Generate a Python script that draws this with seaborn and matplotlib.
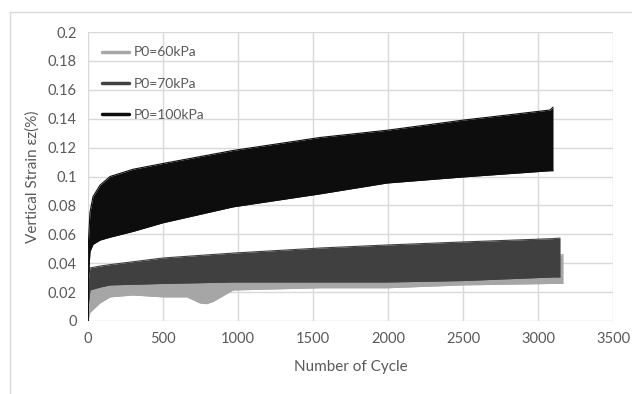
import numpy as np
import pandas as pd
import matplotlib
matplotlib.use("Agg")
import matplotlib.pyplot as plt
from matplotlib.lines import Line2D
import seaborn as sns

# envelope of the cyclic strain band (lower / upper)
cyc_60 = [0, 5, 13, 80, 147, 300, 500, 660, 747, 790, 833, 967, 1547, 1993, 2500, 3100, 3167]
low_60 = [0.0, 0.003, 0.006, 0.0125, 0.0167, 0.018, 0.0167, 0.0167, 0.0125, 0.012, 0.0135, 0.0215, 0.023, 0.023, 0.025, 0.026, 0.026]
up_60 = [0.0, 0.018, 0.026, 0.030, 0.032, 0.034, 0.036, 0.037, 0.037, 0.037, 0.038, 0.039, 0.041, 0.042, 0.043, 0.045, 0.046]

cyc_70 = [0, 3, 13, 80, 147, 500, 967, 1547, 1993, 2500, 3100, 3147]
low_70 = [0.0, 0.012, 0.0215, 0.0235, 0.025, 0.026, 0.027, 0.027, 0.027, 0.028, 0.0305, 0.0305]
up_70 = [0.0, 0.030, 0.0367, 0.038, 0.039, 0.0436, 0.047, 0.0505, 0.0526, 0.0547, 0.057, 0.0574]

cyc_100 = [0, 3, 13, 33, 80, 147, 300, 500, 967, 1547, 1993, 2500, 3080, 3100]
low_100 = [0.0, 0.030, 0.048, 0.053, 0.056, 0.058, 0.062, 0.068, 0.079, 0.088, 0.0955, 0.0997, 0.104, 0.104]
up_100 = [0.0, 0.055, 0.075, 0.086, 0.094, 0.100, 0.105, 0.109, 0.118, 0.127, 0.132, 0.139, 0.146, 0.148]

labels = ["P0=60kPa", "P0=70kPa", "P0=100kPa"]
colors = ["#a6a6a6", "#404040", "#0d0d0d"]

sns.set_style("white")
plt.rcParams["font.family"] = ["Lato", "DejaVu Sans"]

fig = plt.figure(figsize=(6.32, 3.94), dpi=100)
ax = fig.add_axes([88 / 632, 1 - 321 / 394, 525 / 632, 289 / 394])

# outer chart border (only top/left visible in the crop)
fig.add_artist(Line2D([10 / 632, 1], [1 - 12 / 394] * 2, color="#d9d9d9", lw=1))
fig.add_artist(Line2D([10 / 632] * 2, [0, 1 - 12 / 394], color="#d9d9d9", lw=1))

series = [(cyc_60, low_60, up_60), (cyc_70, low_70, up_70), (cyc_100, low_100, up_100)]
for i, ((c, lo, hi), lab, col) in enumerate(zip(series, labels, colors)):
    df = pd.DataFrame({"cycle": c, "low": lo, "high": hi})
    z = 3 + i
    sns.lineplot(x="cycle", y="low", data=df, color=col, lw=0.8, ax=ax, zorder=z)
    sns.lineplot(x="cycle", y="high", data=df, color=col, lw=0.8, ax=ax, zorder=z)
    ax.fill_between(df["cycle"], df["low"], df["high"], color=col, lw=0, zorder=z)

ax.set_xlim(0, 3500)
ax.set_ylim(0, 0.2)
ax.set_xticks(np.arange(0, 3501, 500))
ax.set_yticks(np.arange(0, 0.201, 0.02))
ax.set_yticklabels(["0", "0.02", "0.04", "0.06", "0.08", "0.1", "0.12", "0.14", "0.16", "0.18", "0.2"])
ax.grid(True, color="#d9d9d9", lw=1)
ax.set_axisbelow(True)
for s in ax.spines.values():
    s.set_visible(False)
ax.tick_params(length=0, labelsize=10.5, labelcolor="#595959", pad=8)

ax.set_xlabel("Number of Cycle", fontsize=11, color="#595959", labelpad=10)
ax.set_ylabel("Vertical Strain \u03b5z(%)", fontsize=11, color="#595959", labelpad=6)

handles = [Line2D([], [], color=col, lw=2.5) for col in colors]
leg = ax.legend(handles, labels, loc="upper left", bbox_to_anchor=(0.027, 0.95), frameon=False,
                borderpad=0, borderaxespad=0, fontsize=10, labelspacing=1.4,
                handlelength=1.9, handletextpad=0.35)
leg.set_zorder(10)
for t in leg.get_texts():
    t.set_color("#595959")

fig.savefig("out.png", dpi=100, facecolor="white")
